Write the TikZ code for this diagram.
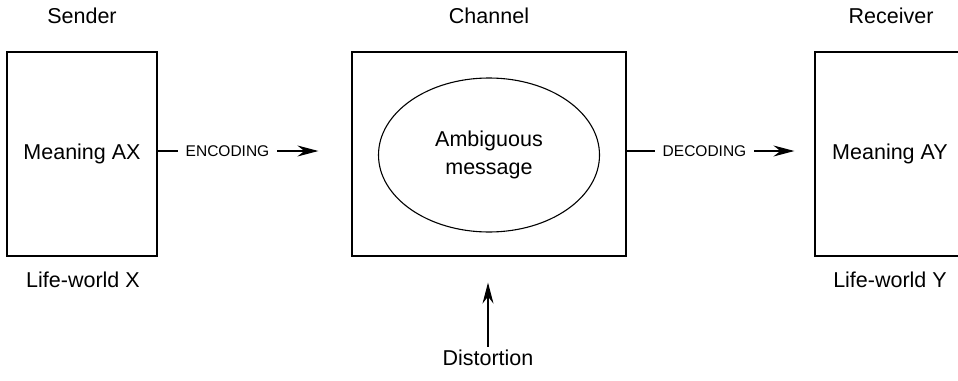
\documentclass[tikz,border=0pt]{standalone}
\usepackage{fontspec}
\setmainfont{Liberation Sans}
\usetikzlibrary{arrows.meta,shapes.geometric}
\begin{document}
\begin{tikzpicture}[x=1pt,y=-1pt,
  every node/.style={font=\fontsize{21.5}{28}\selectfont},
  box/.style={draw,line width=1.2pt,minimum height=204pt,inner sep=0pt},
  small/.style={font=\fontsize{15.5}{18}\selectfont,inner sep=8pt},
  link/.style={line width=1.1pt},
  flow/.style={line width=1.1pt,-{Stealth[length=21pt,width=11pt,inset=7pt]}}]
\useasboundingbox (0,0) rectangle (958,380);
% the three stages
\node[box,minimum width=150pt] (sender) at (82,154) {Meaning AX};
\node[box,minimum width=274pt] (channel) at (489,154) {};
\node[draw,line width=1.1pt,ellipse,minimum width=221pt,minimum height=154pt,inner sep=0pt,align=center] (msg) at (489,155) {Ambiguous\\message};
\node[box,minimum width=150pt] (receiver) at (890,154) {Meaning AY};
% headings and captions
\node (hs) at (82,16) {Sender};
\node (hc) at (489,16) {Channel};
\node (hr) at (891,16) {Receiver};
\node (lx) at (83,280) {Life-world X};
\node (ly) at (890,280) {Life-world Y};
\node (dist) at (488,358) {Distortion};
% encoding and decoding links
\node[small] (enc) at (227.5,151) {ENCODING};
\node[small] (dec) at (704.5,151) {DECODING};
\draw[link] (sender.east |- enc) -- (enc.west);
\draw[flow,shorten >=33pt] (enc.east) -- (channel.west |- enc);
\draw[link] (channel.east |- dec) -- (dec.west);
\draw[flow,shorten >=20pt] (dec.east) -- (receiver.west |- dec);
\draw[flow,shorten >=26pt] (dist.north) -- (channel.south -| dist);
\end{tikzpicture}
\end{document}
